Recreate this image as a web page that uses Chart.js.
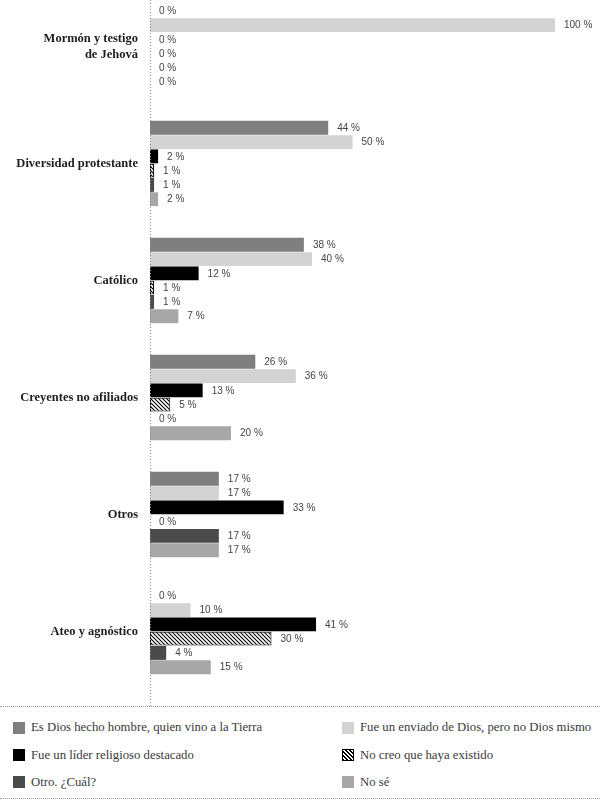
<!DOCTYPE html>
<html>
<head>
<meta charset="utf-8">
<script src="https://cdn.jsdelivr.net/npm/chart.js@4"></script>
<style>
  html, body { margin:0; padding:0; background:#fff; }
  body { width:600px; height:810px; position:relative; overflow:hidden; }
  #wrap { position:absolute; left:0; top:-12px; width:600px; height:718px; }
  .hline { position:absolute; left:0; width:600px; height:0; border-top:1px dotted #9a9a9a; }
  .leg { position:absolute; font-family:"Liberation Serif", serif; font-size:12.75px; color:#3a3a3a; line-height:14px; white-space:nowrap; }
  .sw { position:absolute; width:12px; height:12px; }
</style>
</head>
<body>
<div id="wrap"><canvas id="c" width="600" height="718"></canvas></div>
<div class="hline" style="top:706px"></div>
<div class="hline" style="top:798px"></div>
<div id="legend"></div>
<script>
const categories = [["Mormón y testigo", "de Jehová"], "Diversidad protestante", "Católico", "Creyentes no afiliados", "Otros", "Ateo y agnóstico"];
const seriesNames = [
  "Es Dios hecho hombre, quien vino a la Tierra",
  "Fue un enviado de Dios, pero no Dios mismo",
  "Fue un líder religioso destacado",
  "No creo que haya existido",
  "Otro. ¿Cuál?",
  "No sé"
];
const diosHechoHombre   = [0, 44, 38, 26, 17, 0];
const enviadoDeDios     = [100, 50, 40, 36, 17, 10];
const liderReligioso    = [0, 2, 12, 13, 33, 41];
const noHayaExistido    = [0, 1, 1, 5, 0, 30];
const otroCual          = [0, 1, 1, 0, 17, 4];
const noSe              = [0, 2, 7, 20, 17, 15];
const seriesValues = [diosHechoHombre, enviadoDeDios, liderReligioso, noHayaExistido, otroCual, noSe];

function makeHatch() {
  const s = 4;
  const pc = document.createElement('canvas');
  pc.width = s; pc.height = s;
  const g = pc.getContext('2d');
  g.fillStyle = '#fff'; g.fillRect(0, 0, s, s);
  g.strokeStyle = '#000'; g.lineWidth = 1.1;
  g.beginPath();
  g.moveTo(-1, -1); g.lineTo(s + 1, s + 1);
  g.moveTo(-1, s - 1); g.lineTo(1, s + 1);
  g.moveTo(s - 1, -1); g.lineTo(s + 1, 1);
  g.stroke();
  return document.getElementById('c').getContext('2d').createPattern(pc, 'repeat');
}
const hatch = makeHatch();
const colors = ['#7f7f7f', '#d3d3d3', '#000000', hatch, '#4a4a4a', '#a7a7a7'];
const legendCss = ['#7f7f7f', '#d3d3d3', '#000000',
  'repeating-linear-gradient(45deg, #000 0 1px, #fff 1px 2.8px)', '#4a4a4a', '#a7a7a7'];

const datasets = seriesValues.map((vals, i) => ({
  label: seriesNames[i],
  data: vals,
  backgroundColor: colors[i],
  borderColor: i === 3 ? '#000' : colors[i],
  borderWidth: i === 3 ? 1 : 0,
  borderSkipped: false,
  barPercentage: 0.97,
  categoryPercentage: 0.733
}));

const valueLabels = {
  id: 'valueLabels',
  afterDatasetsDraw(chart) {
    const ctx = chart.ctx;
    ctx.save();
    ctx.font = '10px "Liberation Sans", sans-serif';
    ctx.fillStyle = '#444';
    ctx.textAlign = 'left';
    ctx.textBaseline = 'middle';
    chart.data.datasets.forEach((ds, di) => {
      const meta = chart.getDatasetMeta(di);
      meta.data.forEach((bar, j) => {
        ctx.fillText(ds.data[j] + ' %', bar.x + 9, bar.y + 0.5);
      });
    });
    ctx.restore();
  },
  afterDraw(chart) {
    const ctx = chart.ctx;
    const x = Math.round(chart.chartArea.left) + 0.5;
    ctx.save();
    ctx.strokeStyle = '#888';
    ctx.lineWidth = 1;
    ctx.setLineDash([1, 2]);
    ctx.beginPath();
    ctx.moveTo(x, 0);
    ctx.lineTo(x, chart.height);
    ctx.stroke();
    ctx.restore();
  }
};

new Chart(document.getElementById('c'), {
  type: 'bar',
  data: { labels: categories, datasets },
  options: {
    indexAxis: 'y',
    responsive: false,
    animation: false,
    layout: { padding: { top: 0, right: 45, bottom: 16, left: 0 } },
    plugins: { legend: { display: false }, tooltip: { enabled: false } },
    scales: {
      x: { display: false, min: 0, max: 100 },
      y: {
        offset: true,
        grid: { display: false, drawTicks: false },
        border: { display: false },
        ticks: {
          padding: 12,
          color: '#1e1e1e',
          font: { family: '"Liberation Serif", serif', size: 12.5, weight: 'bold', lineHeight: 1.25 }
        },
        afterFit(scale) {
          scale.width = 150;
          scale.paddingTop = 0;
          scale.paddingBottom = 0;
        }
      }
    }
  },
  plugins: [valueLabels]
});

// HTML legend built from the series
const legend = document.getElementById('legend');
const rowsY = [727.5, 755, 782];
seriesNames.forEach((name, i) => {
  const col = i % 2, row = Math.floor(i / 2);
  const boxX = col === 0 ? 13 : 342;
  const textX = col === 0 ? 31 : 360;
  const sw = document.createElement('div');
  sw.className = 'sw';
  sw.style.left = boxX + 'px';
  sw.style.top = (rowsY[row] - 6) + 'px';
  sw.style.background = legendCss[i];
  if (i === 3) { sw.style.boxSizing = 'border-box'; sw.style.border = '1px solid #000'; }
  legend.appendChild(sw);
  const t = document.createElement('div');
  t.className = 'leg';
  t.style.left = textX + 'px';
  t.style.top = (rowsY[row] - 7.5) + 'px';
  t.textContent = name;
  legend.appendChild(t);
});
</script>
</body>
</html>
